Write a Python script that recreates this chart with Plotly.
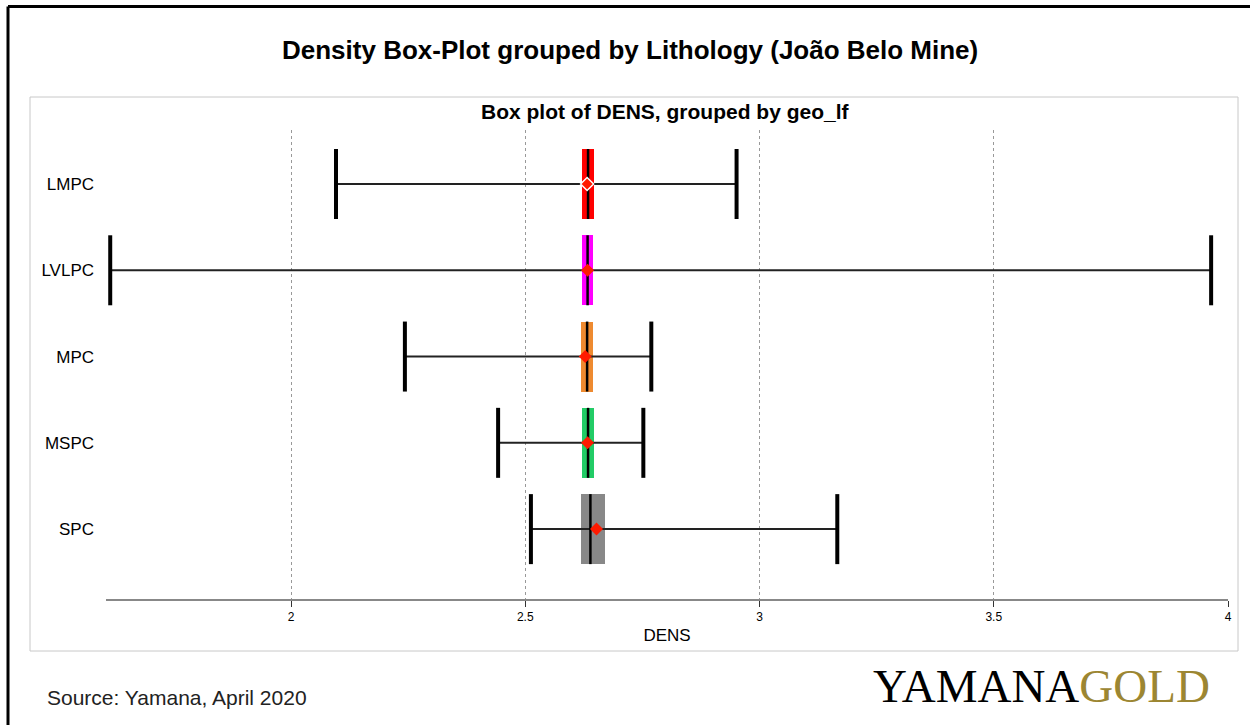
import plotly.graph_objects as go

# ---- data ----
categories = ["LMPC", "LVLPC", "MPC", "MSPC", "SPC"]
whisker_low = [2.096, 1.614, 2.243, 2.442, 2.512]
q1 = [2.621, 2.621, 2.619, 2.620, 2.618]
median = [2.634, 2.633, 2.632, 2.634, 2.639]
q3 = [2.647, 2.644, 2.644, 2.647, 2.670]
whisker_high = [2.951, 3.964, 2.769, 2.752, 3.166]
mean = [2.632, 2.633, 2.628, 2.633, 2.652]
box_colors = ["#FF0000", "#FF00FF", "#EE8A30", "#22CC66", "#888888"]
x_ticks = [2, 2.5, 3, 3.5, 4]
x_ticktext = ["2", "2.5", "3", "3.5", "4"]

# ---- layout constants (pixels) ----
W, H = 1250, 725
L, R, T, B = 106, 22, 130, 126
PW, PH = W - L - R, H - T - B


def px(x):
    return (x - L) / PW


def py(y):
    return (H - B - y) / PH


fig = go.Figure()

# whisker lines
wx, wy = [], []
for c, lo, hi in zip(categories, whisker_low, whisker_high):
    wx += [lo, hi, None]
    wy += [c, c, None]
fig.add_trace(go.Scatter(x=wx, y=wy, mode="lines",
                         line=dict(color="#222222", width=2),
                         hoverinfo="skip", showlegend=False))

# whisker caps (line-ns marker length = 1.4 * size)
fig.add_trace(go.Scatter(x=whisker_low + whisker_high, y=categories + categories,
                         mode="markers",
                         marker=dict(symbol="line-ns-open", size=50, color="black",
                                     line=dict(color="black", width=4)),
                         hoverinfo="skip", showlegend=False))

# boxes
fig.add_trace(go.Bar(y=categories, x=[b - a for a, b in zip(q1, q3)], base=q1,
                     orientation="h", width=0.81,
                     marker=dict(color=box_colors, line=dict(width=0)),
                     showlegend=False))

# medians
fig.add_trace(go.Scatter(x=median, y=categories, mode="markers",
                         marker=dict(symbol="line-ns-open", size=50, color="black",
                                     line=dict(color="black", width=2.5)),
                         hoverinfo="skip", showlegend=False))

# means
fig.add_trace(go.Scatter(x=mean, y=categories, mode="markers",
                         marker=dict(symbol="diamond", size=10, color="#FF1A00",
                                     line=dict(color=["white", "#FF1A00", "#FF1A00",
                                                      "#FF1A00", "#FF1A00"],
                                               width=[1.5, 0, 0, 0, 0])),
                         showlegend=False))

fig.update_layout(
    width=W, height=H,
    margin=dict(l=L, r=R, t=T, b=B),
    paper_bgcolor="white", plot_bgcolor="white",
    font=dict(family="Liberation Sans, Arial, sans-serif", color="black"),
    bargap=0,
    xaxis=dict(range=[1.605, 4.0], tickvals=x_ticks, ticktext=x_ticktext,
               showgrid=True, gridcolor="#999999", griddash="dot", gridwidth=1,
               showline=True, linecolor="#888888", linewidth=2,
               ticks="outside", ticklen=6, tickcolor="#333333",
               tickfont=dict(size=12), zeroline=False,
               title=dict(text="DENS", font=dict(size=17), standoff=6)),
    yaxis=dict(type="category", categoryorder="array", categoryarray=categories,
               range=[4.81, -0.626], showgrid=False, zeroline=False,
               showline=False, ticks="", tickfont=dict(size=17),
               ticklabelstandoff=11),
    shapes=[
        # inner light frame
        dict(type="rect", xref="paper", yref="paper",
             x0=px(30), x1=px(1238), y0=py(651), y1=py(97),
             line=dict(color="#C8C8C8", width=1), layer="below"),
        # outer black border (top and left)
        dict(type="line", xref="paper", yref="paper",
             x0=px(8), x1=px(1252), y0=py(6.5), y1=py(6.5),
             line=dict(color="black", width=3)),
        dict(type="line", xref="paper", yref="paper",
             x0=px(8), x1=px(8), y0=py(6.5), y1=py(727),
             line=dict(color="black", width=3)),
    ],
    annotations=[
        dict(text="<b>Density Box-Plot grouped by Lithology (João Belo Mine)</b>",
             xref="paper", yref="paper", x=px(630), y=py(50),
             xanchor="center", yanchor="middle", showarrow=False,
             font=dict(size=26)),
        dict(text="<b>Box plot of DENS, grouped by geo_lf</b>",
             xref="paper", yref="paper", x=px(665.5), y=py(112),
             xanchor="center", yanchor="middle", showarrow=False,
             font=dict(size=21)),
        dict(text="Source: Yamana, April 2020",
             xref="paper", yref="paper", x=px(45), y=py(697),
             xanchor="left", yanchor="middle", showarrow=False,
             font=dict(size=21, color="#222222")),
        dict(text="YAMANA<span style='color:#9C8632'>GOLD</span>",
             xref="paper", yref="paper", x=px(871), y=py(686),
             xanchor="left", yanchor="middle", showarrow=False,
             font=dict(size=47, family="Liberation Serif, Times New Roman, serif",
                       color="black")),
    ],
)

fig.write_html("out.html", config={"displayModeBar": False},
               post_script="document.body.style.margin='0';document.body.style.overflow='hidden';")
